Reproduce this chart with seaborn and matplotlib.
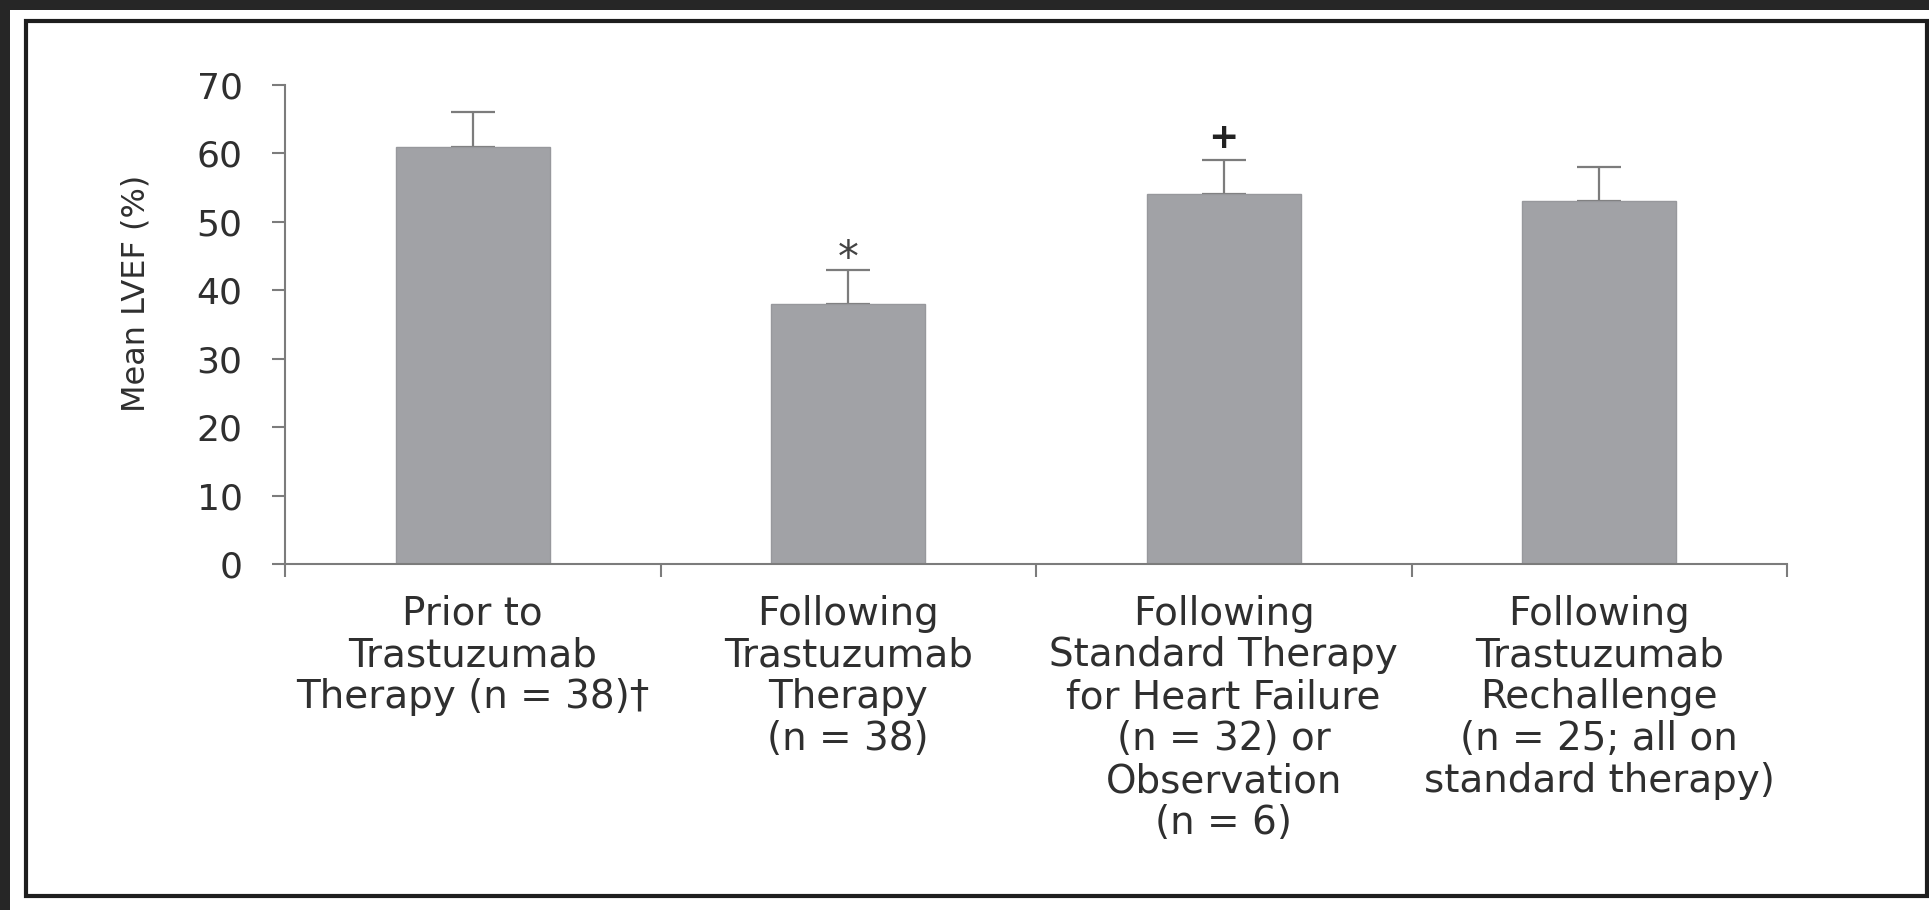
import matplotlib
matplotlib.use("Agg")
import matplotlib.pyplot as plt
import matplotlib.patches as mpatches
import seaborn as sns
import pandas as pd

categories = [
    "Prior to\nTrastuzumab\nTherapy (n = 38)\u2020",
    "Following\nTrastuzumab\nTherapy\n(n = 38)",
    "Following\nStandard Therapy\nfor Heart Failure\n(n = 32) or\nObservation\n(n = 6)",
    "Following\nTrastuzumab\nRechallenge\n(n = 25; all on\nstandard therapy)",
]
mean_lvef = [61, 38, 54, 53]
sd_upper = [5, 5, 5, 5]
markers = ["", "*", "+", ""]
marker_y = [None, 44.6, 62.3, None]
y_ticks = [0, 10, 20, 30, 40, 50, 60, 70]
y_label = "Mean LVEF (%)"

sns.set_style("white")
plt.rcParams["font.family"] = ["DejaVu Sans"]

W, H = 1929, 910
fig = plt.figure(figsize=(W / 100, H / 100), dpi=100)
fig.patch.set_facecolor("white")

# dark border bands (left and top) and black frame
fig.patches.append(mpatches.Rectangle((0, 0), 10 / W, 1, transform=fig.transFigure,
                                      facecolor="#262626", edgecolor="none", zorder=0))
fig.patches.append(mpatches.Rectangle((0, 1 - 9.5 / H), 1, 9.5 / H, transform=fig.transFigure,
                                      facecolor="#262626", edgecolor="none", zorder=0))
fig.patches.append(mpatches.Rectangle((25.5 / W, 1 - 896 / H), (1927 - 25.5) / W, (896 - 20.5) / H,
                                      transform=fig.transFigure, facecolor="none",
                                      edgecolor="#1e1e1e", linewidth=3.0, zorder=1))

ax = fig.add_axes([285 / W, 1 - 564 / H, (1787 - 285) / W, (564 - 85) / H])

df = pd.DataFrame({"cat": categories, "val": mean_lvef})
bar_color = "#a1a2a6"
sns.barplot(data=df, x="cat", y="val", color=bar_color, saturation=1, width=0.41,
            errorbar=None, ax=ax, edgecolor="#97989c", linewidth=1.0, zorder=2)

xpos = list(range(len(categories)))
ax.errorbar(xpos, mean_lvef, yerr=[[0] * len(sd_upper), sd_upper], fmt="none",
            ecolor="#7c7c7c", elinewidth=1.6, capsize=16, capthick=1.6, zorder=1)

text_color = "#2f2f2f"
for i, (m, my) in enumerate(zip(markers, marker_y)):
    if m == "*":
        ax.text(i, my, m, ha="center", va="center", fontsize=30, color="#444444")
    elif m == "+":
        ax.text(i, my, m, ha="center", va="center", fontsize=26, fontweight="bold",
                color="#222222")

ax.set_xlim(-0.5, 3.5)
ax.set_ylim(0, 70)
ax.set_yticks(y_ticks)
ax.set_yticklabels([str(t) for t in y_ticks])
ax.set_xlabel("")
ax.set_ylabel(y_label, fontsize=23, color=text_color)
ax.yaxis.set_label_coords(-0.089, 0.565)

ax.set_xticks(xpos)
ax.set_xticklabels(categories, fontsize=28, color=text_color, linespacing=1.13)
ax.set_xticks([-0.5, 0.5, 1.5, 2.5, 3.5], minor=True)
ax.tick_params(axis="x", which="major", length=0, pad=22)
ax.tick_params(axis="x", which="minor", length=9.5, width=1.5, color="#7c7c7c",
               direction="out", bottom=True)
ax.tick_params(axis="y", which="major", length=9.5, width=1.5, color="#7c7c7c",
               direction="out", left=True, labelsize=26, labelcolor=text_color, pad=21)

for side in ["top", "right"]:
    ax.spines[side].set_visible(False)
for side in ["left", "bottom"]:
    ax.spines[side].set_color("#7c7c7c")
    ax.spines[side].set_linewidth(1.5)

fig.savefig("out.png", dpi=100, facecolor="white")
